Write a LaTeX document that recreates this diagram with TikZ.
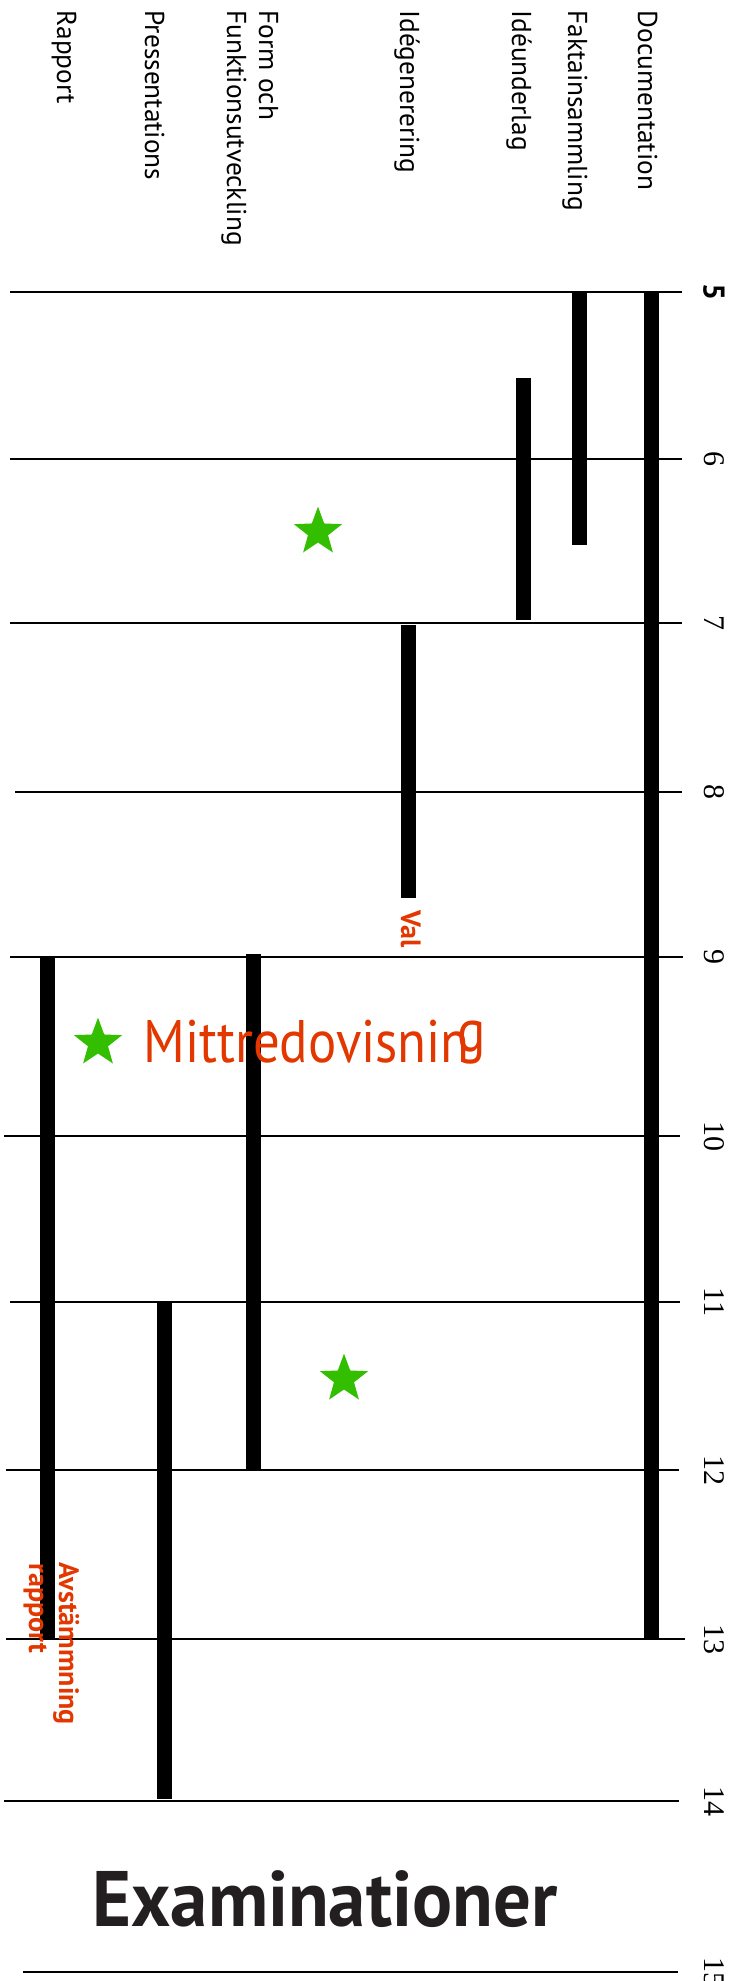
\documentclass[tikz,border=0pt]{standalone}
\usepackage{fontspec}
\setmainfont{Liberation Serif}
\newfontfamily\lblfont{PT Sans}
\usetikzlibrary{shapes.geometric}

\definecolor{noteRed}{RGB}{226,56,0}
\definecolor{starGreen}{RGB}{51,191,0}
\definecolor{titleBlack}{RGB}{35,31,32}

\tikzset{every picture/.style={line width=0.75pt}}
\tikzset{
  weekline/.style={line width=1.5pt},
  taskbar/.style={line width=11.25pt},
  tasklabel/.style={anchor=base west,inner sep=0pt,rotate=-90,font=\lblfont\fontsize{20.5}{24}\selectfont},
  weeknum/.style={anchor=center,inner sep=0pt,rotate=-90,font=\fontsize{22.5}{24}\selectfont},
  notelabel/.style={anchor=base west,inner sep=0pt,rotate=-90,text=noteRed,font=\lblfont\bfseries\fontsize{21}{24}\selectfont},
  milestone/.style={star,star points=5,star point ratio=2.4,fill=starGreen,inner sep=0pt,minimum size=38pt}
}

\begin{document}
\begin{tikzpicture}[x=0.75pt,y=0.75pt,yscale=-1,xscale=1]
\useasboundingbox (0,0) rectangle (739,1981);

%Straight Lines (weeks)
\foreach \wk/\yy/\xl/\xr in {5/292/10/682,6/459/10/682,7/623/10/682,8/792/15/682,9/957/10/683,10/1136/4/680,11/1302/10/680,12/1470/6/679,13/1639/6/685,14/1801/4/679,15/1972/23/678}
  \draw [weekline] (\xl,\yy) -- (\xr,\yy) ;

% Week numbers
\draw (714,292) node (wk5) [weeknum,font=\lblfont\bfseries\fontsize{22.5}{24}\selectfont] {5};
\foreach \wk/\yy in {6/459,7/623,8/792,9/957,10/1136,11/1302,12/1470,13/1639,14/1801,15/1972}
  \draw (714,\yy) node (wk\wk) [weeknum] {\wk};

%Straight Lines (task bars)
\draw [taskbar] (651,291) -- (651,1639) ;
\draw [taskbar] (579,293) -- (579,545) ;
\draw [taskbar] (523,378) -- (523,620) ;
\draw [taskbar] (408,625) -- (408,898) ;
\draw [taskbar] (253,954) -- (253,1469) ;
\draw [taskbar] (164,1301) -- (164,1799) ;
\draw [taskbar] (47,956) -- (47,1638) ;

% Text Node
\draw (638,10) node (doc) [tasklabel] {Documentation};
% Text Node
\draw (568,10) node (fakta) [tasklabel] {Faktainsammling};
% Text Node
\draw (512,10) node (ideu) [tasklabel] {Idéunderlag};
% Text Node
\draw (400,10) node (ideg) [tasklabel] {Idégenerering};
% Text Node
\draw (259,10) node (form) [tasklabel] {Form och};
% Text Node
\draw (227,10) node (funk) [tasklabel] {Funktionsutveckling};
% Text Node
\draw (145,10) node (press) [tasklabel] {Pressentations};
% Text Node
\draw (57,10) node (rapp) [tasklabel] {Rapport};

% Notes
\draw (401,910) node (val) [notelabel] {Val};
\draw (59,1562) node (avst) [notelabel] {Avstämmning};
\draw (29,1563) node (avstr) [notelabel] {rapport};

% Stars
\node (star1) [milestone] at (318,532) {};
\node (star2) [milestone] at (98,1043) {};
\node (star3) [milestone] at (344,1379) {};

% Text Node
\draw (143,1062) node (mitt) [anchor=base west,inner sep=0pt,xscale=0.88,text=noteRed,font=\lblfont\fontsize{45}{50}\selectfont] {Mittredovisnin};
\draw (457,1051) node (mittg) [anchor=base west,inner sep=0pt,xscale=0.88,text=noteRed,font=\lblfont\fontsize{45}{50}\selectfont] {g};

% Text Node
\draw (325,1926) node (exam) [anchor=base,inner sep=0pt,xscale=0.95,text=titleBlack,font=\lblfont\bfseries\fontsize{59}{64}\selectfont] {Examinationer};

\end{tikzpicture}
\end{document}
